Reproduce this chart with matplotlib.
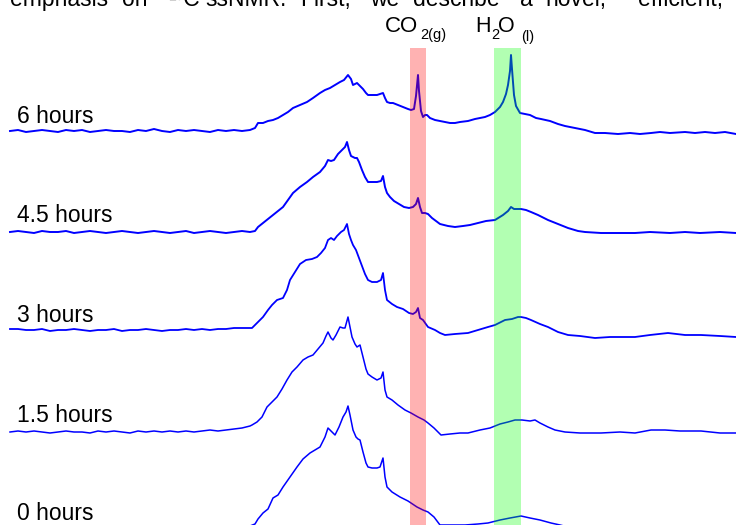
import matplotlib
matplotlib.use("Agg")
import matplotlib.pyplot as plt
from matplotlib.patches import Rectangle

plt.rcParams['font.family'] = ['Liberation Sans', 'DejaVu Sans']

# Spectral axis (arbitrary channel units) for the flat low-field region
FLAT_X = [10, 18, 26, 34, 42, 50, 58, 66, 74, 82, 90, 98, 106, 114, 122, 130,
          138, 146, 154, 162, 170, 178, 186, 194, 202, 210, 218, 226, 234, 242, 250]

# ---- 6 hours ----
h6_flat = [0, 1, -1, 0, 1, 0, -1, 1, 0, 1, -1, 0, 1, 0, 0, -1, 1, 0, 2, 0, -1, 1, 0, 1, 0, -1, 1, 0, 1, 0, 1]
h6_x = [255, 258, 263, 268, 273, 278, 283, 288, 293, 300, 307, 313, 320, 325, 330, 335, 340, 344, 348, 351,
        353, 355, 357, 360, 363, 366, 368, 372, 377, 380, 383, 385, 387, 390, 393, 398, 403, 408, 411, 414,
        416, 418, 419, 421, 423, 425, 427, 430, 435, 440, 445, 450, 455, 460, 468, 475, 485, 490, 495, 500,
        503, 506, 508, 510, 511, 512, 514, 516, 520, 525, 530, 536, 541, 550, 558, 565, 575, 585, 595, 605,
        618, 630, 640, 651, 660, 670, 685, 695, 705, 715, 725, 736]
h6_y = [3, 8, 8, 10, 11, 13, 16, 19, 23, 26, 29, 33, 38, 41, 43, 46, 49, 51, 56, 52,
        46, 47, 48, 45, 42, 38, 36, 36, 36, 37, 38, 33, 29, 28, 28, 26, 24, 22, 21, 22,
        35, 56, 40, 20, 14, 16, 16, 13, 11, 10, 9, 8, 8, 9, 10, 12, 14, 16, 19, 24,
        29, 37, 46, 60, 76, 62, 36, 25, 18, 17, 16, 13, 12, 10, 7, 5, 3, 1, -2, -2,
        -3, -2, -3, -2, -1, -2, -1, -2, -1, -2, -1, -3]

# ---- 4.5 hours ----
h45_flat = [0, 1, 0, -1, 1, 0, 0, 1, -1, 0, 1, 0, -1, 0, 1, 0, -1, 0, 1, 0, -1, 0, 1, -1, 0, 1, 0, -1, 0, 1, 0]
h45_x = [255, 258, 263, 268, 273, 278, 283, 288, 293, 300, 307, 313, 320, 325, 328, 331, 334, 338, 342, 345,
         347, 349, 351, 353, 355, 357, 359, 362, 365, 368, 372, 377, 381, 383, 385, 387, 390, 394, 399, 404,
         409, 413, 416, 418, 420, 422, 425, 428, 432, 436, 440, 448, 455, 463, 470, 478, 486, 495, 503, 508,
         511, 514, 518, 521, 526, 531, 538, 548, 558, 568, 578, 585, 601, 615, 635, 650, 670, 685, 700, 720, 736]
h45_y = [1, 5, 9, 13, 17, 21, 25, 32, 39, 45, 50, 55, 60, 66, 72, 71, 72, 78, 82, 85,
         90, 82, 76, 75, 74, 74, 70, 62, 55, 50, 50, 50, 51, 56, 45, 39, 35, 31, 28, 25,
         24, 25, 28, 34, 25, 19, 19, 18, 14, 11, 8, 6, 5, 6, 7, 9, 11, 12, 17, 21,
         25, 23, 23, 23, 22, 20, 17, 12, 8, 4, 1, 0, -1, -1, -1, 0, -1, 0, -1, 0, -1]

# ---- 3 hours ----
h3_flat = [1, 1, 0, 0, 1, -1, 0, 0, 1, 0, -1, 0, 0, 1, -1, 0, 0, 1, 0, -1, 0, 0, 1, 0, 1, 0, 1, 1, 2, 2, 2]
h3_x = [252, 258, 263, 268, 272, 277, 283, 287, 290, 295, 300, 306, 312, 317, 321, 325, 328, 331, 334, 337,
        341, 344, 347, 349, 351, 353, 356, 359, 362, 365, 368, 372, 377, 381, 383, 385, 387, 392, 397, 403,
        409, 413, 416, 418, 420, 423, 428, 435, 440, 445, 455, 468, 478, 488, 495, 505, 512, 518, 521, 526,
        531, 540, 548, 558, 568, 580, 595, 610, 635, 650, 668, 685, 701, 720, 736]
h3_y = [2, 8, 13, 20, 25, 30, 32, 40, 50, 58, 66, 70, 71, 73, 77, 82, 90, 92, 90, 94,
        98, 100, 106, 96, 90, 85, 80, 72, 64, 56, 50, 48, 48, 50, 57, 40, 30, 26, 23, 21,
        17, 16, 18, 22, 12, 10, 3, 0, -3, -5, -4, -3, 0, 3, 5, 10, 11, 13, 13, 12,
        10, 6, 3, -2, -5, -6, -8, -7, -7, -5, -3, -5, -5, -6, -7]

# ---- 1.5 hours ----
h15_flat = [0, 1, 0, 1, 0, -1, 0, 1, 0, 0, -1, 1, 0, 1, 0, -1, 1, 0, 1, 0, 1, 0, 1, 0, 1, 2, 1, 2, 3, 4, 6]
h15_x = [252, 257, 262, 267, 272, 277, 282, 287, 292, 297, 303, 308, 313, 318, 323, 326, 328, 331, 333,
         336, 340, 343, 345, 348, 350, 352, 355, 357, 360, 363, 366, 368, 372, 377, 381, 383, 385, 387, 392,
         398, 405, 411, 418, 424, 428, 434, 441, 450, 460, 468, 480, 490, 500, 508, 515, 522, 530, 535, 540,
         548, 555, 565, 580, 601, 620, 635, 651, 665, 680, 701, 720, 736]
h15_y = [7, 10, 15, 25, 30, 35, 43, 52, 60, 65, 72, 75, 77, 83, 89, 96, 100, 94, 92,
         97, 105, 104, 104, 115, 105, 95, 88, 85, 87, 75, 63, 58, 55, 52, 54, 60, 42, 35, 32,
         27, 22, 19, 15, 12, 9, 4, -3, -2, -1, -1, 2, 4, 8, 10, 12, 12, 11, 12, 9,
         5, 2, 0, -1, -1, 0, -1, 2, 2, 1, 1, -1, -1]

# ---- 0 hours ----
h0_flat = [0, 1, 0, -1, 0, 1, 0, 0, -1, 0, 1, 0, 0, 1, -1, 0, 0, 1, 0, -1, 0, 1, 0, 0, 1, 0, -1, 0, 1, 0, 1]
h0_x = [255, 258, 263, 268, 273, 278, 283, 290, 297, 303, 310, 315, 320, 325, 328, 331, 335, 339, 343, 346,
        348, 350, 353, 356, 358, 360, 363, 366, 368, 372, 377, 380, 383, 385, 387, 392, 400, 408, 417, 423,
        428, 434, 440, 450, 465, 478, 488, 500, 510, 521, 530, 540, 551, 560, 568, 580, 600, 620, 640, 660,
        680, 700, 736]
h0_y = [3, 8, 14, 18, 29, 32, 40, 50, 60, 68, 74, 77, 80, 90, 99, 96, 92, 100, 110, 115,
        121, 112, 97, 90, 88, 87, 75, 64, 60, 59, 59, 60, 69, 50, 40, 35, 30, 26, 20, 17,
        15, 10, 2, 2, 2, 3, 4, 7, 9, 11, 9, 7, 4, 2, 0, -1, 0, -1, 0, -1, 0, -1, 0]

labels = ["6 hours", "4.5 hours", "3 hours", "1.5 hours", "0 hours"]
series = [
    (h6_flat, h6_x, h6_y),
    (h45_flat, h45_x, h45_y),
    (h3_flat, h3_x, h3_y),
    (h15_flat, h15_x, h15_y),
    (h0_flat, h0_x, h0_y),
]

# Stacking layout
offsets = [394, 293, 195, 93, -2]
line_widths = [1.4, 1.4, 1.3, 1.1, 1.1]
label_y = [402, 303, 203, 103, 5]

fig = plt.figure(figsize=(7.36, 5.25), dpi=100)
ax = fig.add_axes([0, 0, 1, 1])
ax.set_xlim(0, 736)
ax.set_ylim(0, 525)
ax.axis('off')

for (flat, xs, ys), off, lw in zip(series, offsets, line_widths):
    x_all = FLAT_X + xs
    y_all = [v + off for v in flat + ys]
    ax.plot(x_all, y_all, color='#0000ff', lw=lw, zorder=2, solid_joinstyle='round')

for lab, ly in zip(labels, label_y):
    ax.text(17, ly, lab, fontsize=16.5, color='black', va='baseline', ha='left')

# Highlighted regions: CO2 (gas) and H2O (liquid)
ax.add_patch(Rectangle((410, 0), 16, 477, facecolor='red', alpha=0.3, lw=0, zorder=3))
ax.add_patch(Rectangle((494, 0), 27, 477, facecolor='#00ff00', alpha=0.3, lw=0, zorder=3))

# Region labels with lowered subscripts
ax.text(385, 493, "CO", fontsize=16, va='baseline', ha='left')
ax.text(420, 486, "2(g)", fontsize=10.5, va='baseline', ha='left')
ax.text(475, 493, "H", fontsize=15.5, va='baseline', ha='left')
ax.text(491, 486, "2", fontsize=10.5, va='baseline', ha='left')
ax.text(498, 493, "O", fontsize=15.5, va='baseline', ha='left')
ax.text(521, 484, "(l)", fontsize=10.5, va='baseline', ha='left')

# Running text of the surrounding page, clipped at the top edge
words = [("emphasis", 10), ("on", 122), ("¹³C", 168), ("ssNMR.", 205), ("First,", 300),
         ("we", 370), ("describe", 413), ("a", 520), ("novel,", 545), ("efficient,", 638)]
for w, wx in words:
    ax.text(wx, 519, w, fontsize=16.5, va='baseline', ha='left', color='black', clip_on=False)

fig.savefig("out.png", dpi=100)
